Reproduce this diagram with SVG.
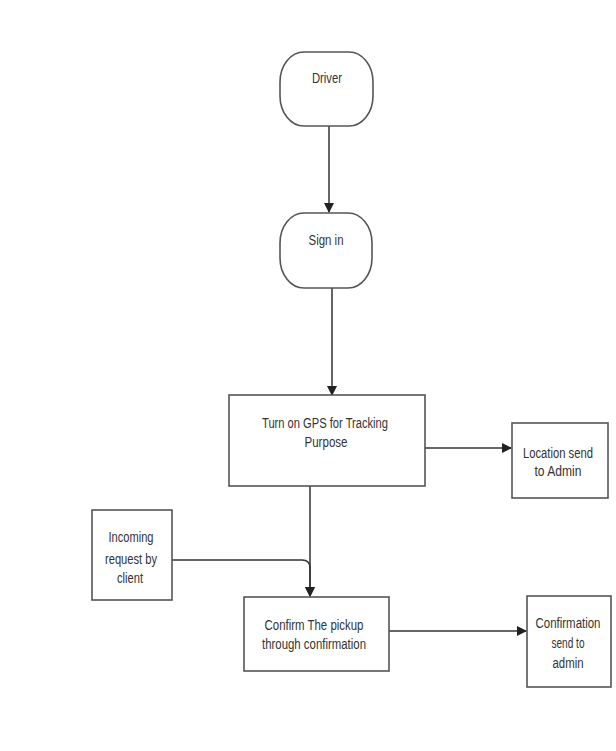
<svg xmlns="http://www.w3.org/2000/svg" width="616" height="751" viewBox="0 0 616 751">
<style>
.n{fill:#fff;stroke:#555;stroke-width:1.6}
.t{font-family:"Liberation Sans",Arial,sans-serif;font-size:14px;fill:#333;text-anchor:middle}
.c{fill:none;stroke:#333;stroke-width:1.5}
</style>
<defs>
<marker id="a" markerWidth="10" markerHeight="10" refX="9" refY="5" orient="auto" markerUnits="userSpaceOnUse">
<path d="M0,0 L10,5 L0,10 Z" fill="#222"/>
</marker>
</defs>
<rect width="616" height="751" fill="#fff"/>
<g id="connectors">
<path class="c" d="M329,126 V212" marker-end="url(#a)"/>
<path class="c" d="M332,288 V395" marker-end="url(#a)"/>
<path class="c" d="M425,448 H511" marker-end="url(#a)"/>
<path class="c" d="M310,486 V596" marker-end="url(#a)"/>
<path class="c" d="M172,560 H302 Q310,560 310,568 V596" marker-end="url(#a)"/>
<path class="c" d="M389,631 H526" marker-end="url(#a)"/>
</g>
<g id="driver">
<rect class="n" x="280" y="52" width="93" height="74" rx="24" ry="30"/>
<text class="t" x="327" y="83" textLength="30" lengthAdjust="spacingAndGlyphs">Driver</text>
</g>
<g id="signin">
<rect class="n" x="280" y="213" width="92" height="75" rx="24" ry="30"/>
<text class="t" x="326" y="245" textLength="35" lengthAdjust="spacingAndGlyphs">Sign in</text>
</g>
<g id="gps">
<rect class="n" x="229" y="395" width="196" height="91"/>
<text class="t" x="325" y="428" textLength="126" lengthAdjust="spacingAndGlyphs">Turn on GPS for Tracking</text>
<text class="t" x="326" y="447" textLength="43" lengthAdjust="spacingAndGlyphs">Purpose</text>
</g>
<g id="location">
<rect class="n" x="512" y="423" width="96" height="75"/>
<text class="t" x="558" y="458" textLength="70" lengthAdjust="spacingAndGlyphs">Location send</text>
<text class="t" x="558" y="476" textLength="47" lengthAdjust="spacingAndGlyphs">to Admin</text>
</g>
<g id="incoming">
<rect class="n" x="92" y="510" width="80" height="90"/>
<text class="t" x="131" y="542" textLength="45" lengthAdjust="spacingAndGlyphs">Incoming</text>
<text class="t" x="131" y="564" textLength="52" lengthAdjust="spacingAndGlyphs">request by</text>
<text class="t" x="130" y="583" textLength="26" lengthAdjust="spacingAndGlyphs">client</text>
</g>
<g id="confirm">
<rect class="n" x="244" y="597" width="145" height="74"/>
<text class="t" x="314" y="630" textLength="99" lengthAdjust="spacingAndGlyphs">Confirm The pickup</text>
<text class="t" x="314" y="649" textLength="104" lengthAdjust="spacingAndGlyphs">through confirmation</text>
</g>
<g id="confirmation">
<rect class="n" x="527" y="596" width="84" height="91"/>
<text class="t" x="568" y="628" textLength="65" lengthAdjust="spacingAndGlyphs">Confirmation</text>
<text class="t" x="568" y="648" textLength="33" lengthAdjust="spacingAndGlyphs">send to</text>
<text class="t" x="568" y="668" textLength="31" lengthAdjust="spacingAndGlyphs">admin</text>
</g>
</svg>
